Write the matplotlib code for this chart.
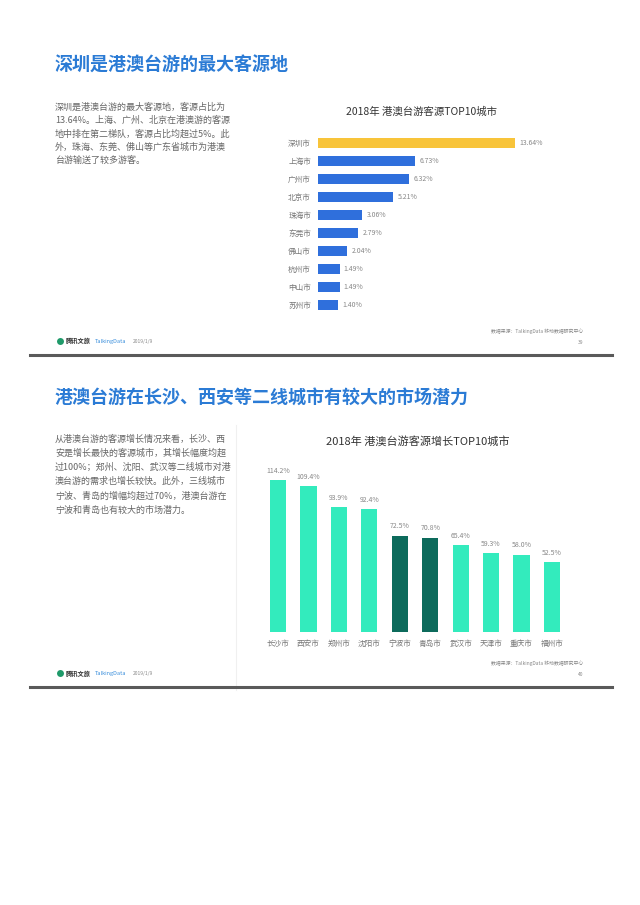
import matplotlib
matplotlib.use("Agg")
import matplotlib.pyplot as plt
from matplotlib.lines import Line2D

plt.rcParams['font.family'] = ['Noto Sans CJK SC', 'DejaVu Sans']

# page 1 data: share of visitors by source city
src_cities = ['深圳市', '上海市', '广州市', '北京市', '珠海市', '东莞市', '佛山市', '杭州市', '中山市', '苏州市']
src_share = [13.64, 6.73, 6.32, 5.21, 3.06, 2.79, 2.04, 1.49, 1.49, 1.40]
src_labels = ['13.64%', '6.73%', '6.32%', '5.21%', '3.06%', '2.79%', '2.04%', '1.49%', '1.49%', '1.40%']

# page 2 data: growth by source city
grow_cities = ['长沙市', '西安市', '郑州市', '沈阳市', '宁波市', '青岛市', '武汉市', '天津市', '重庆市', '福州市']
grow_rate = [114.2, 109.4, 93.9, 92.4, 72.5, 70.8, 65.4, 59.3, 58.0, 52.5]
grow_labels = ['114.2%', '109.4%', '93.9%', '92.4%', '72.5%', '70.8%', '65.4%', '59.3%', '58.0%', '52.5%']
grow_dark = ['宁波市', '青岛市']

W, H = 640, 905
fig = plt.figure(figsize=(W / 100, H / 100), dpi=100)
fig.patch.set_facecolor('white')

BLUE_T = '#2b7bd5'
GREY = '#666666'


def px(x, y):
    return x / W, 1 - y / H


def ftext(x, y, s, **kw):
    fx, fy = px(x, y)
    fig.text(fx, fy, s, **kw)


def add_ax(left, top, width, height):
    return fig.add_axes([left / W, 1 - (top + height) / H, width / W, height / H])


def hline(x0, x1, y, **kw):
    a, b = px(x0, y)
    c, _ = px(x1, y)
    fig.lines.append(Line2D([a, c], [b, b], transform=fig.transFigure, **kw))


def footer(y_line, page):
    # logo
    fx, fy = px(60, y_line - 14)
    fig.lines.append(Line2D([fx], [fy], transform=fig.transFigure, marker='o', markersize=5,
                            color='#1f9a6a', markeredgewidth=0))
    ftext(66, y_line - 14, '腾讯文旅', fontsize=4.5, fontweight='bold', color='#333333', va='center')
    ftext(95, y_line - 14, 'TalkingData', fontsize=4, color='#3b8fdc', va='center')
    ftext(133, y_line - 14, '2019/1/9', fontsize=3.5, color='#888888', va='center')
    ftext(583, y_line - 24, '数据来源：TalkingData 移动数据研究中心', fontsize=3.5, color='#888888',
          va='center', ha='right')
    ftext(583, y_line - 13, page, fontsize=3.5, color='#888888', va='center', ha='right')
    hline(30, 612, y_line, color='#5a5a5a', linewidth=2.2)


# ---------------- page 1 ----------------
ftext(55, 65, '深圳是港澳台游的最大客源地', fontsize=13, fontweight='bold', color=BLUE_T, va='center')

para1 = ['深圳是港澳台游的最大客源地，客源占比为',
         '13.64%。上海、广州、北京在港澳游的客源',
         '地中排在第二梯队，客源占比均超过5%。此',
         '外，珠海、东莞、佛山等广东省城市为港澳',
         '台游输送了较多游客。']
for i, line in enumerate(para1):
    ftext(55, 107 + i * 13.3, line, fontsize=6.5, color=GREY, va='center')

ftext(421, 112, '2018年 港澳台游客源TOP10城市', fontsize=7.5, color='#333333', va='center', ha='center')

ax1 = add_ax(318, 134, 197, 180)
colors1 = ['#f8c43a'] + ['#2f6fdc'] * (len(src_cities) - 1)
ax1.barh(range(len(src_cities)), src_share, height=0.56, color=colors1)
ax1.set_xlim(0, max(src_share))
ax1.set_ylim(len(src_cities) - 0.5, -0.5)
ax1.set_yticks(range(len(src_cities)))
ax1.set_yticklabels(src_cities, fontsize=5.5, color='#777777')
ax1.tick_params(axis='y', length=0, pad=5)
ax1.set_xticks([])
for s in ax1.spines.values():
    s.set_visible(False)
for i, (v, lab) in enumerate(zip(src_share, src_labels)):
    ax1.text(v + 0.3, i, lab, fontsize=5, color='#888888', va='center', ha='left', clip_on=False)

footer(355, '39')

# ---------------- page 2 ----------------
ftext(55, 397, '港澳台游在长沙、西安等二线城市有较大的市场潜力', fontsize=13, fontweight='bold',
      color=BLUE_T, va='center')

para2 = ['从港澳台游的客源增长情况来看，长沙、西',
         '安是增长最快的客源城市，其增长幅度均超',
         '过100%；郑州、沈阳、武汉等二线城市对港',
         '澳台游的需求也增长较快。此外，三线城市',
         '宁波、青岛的增幅均超过70%，港澳台游在',
         '宁波和青岛也有较大的市场潜力。']
for i, line in enumerate(para2):
    ftext(55, 439 + i * 14.2, line, fontsize=6.5, color=GREY, va='center')

# faint panel divider
x0, y0 = px(236, 425)
_, y1 = px(236, 690)
fig.lines.append(Line2D([x0, x0], [y0, y1], transform=fig.transFigure, color='#f0f0f0', linewidth=0.8))

ftext(418, 441, '2018年 港澳台游客源增长TOP10城市', fontsize=8, color='#333333', va='center', ha='center')

ax2 = add_ax(262.8, 480, 304.4, 152)
colors2 = ['#0d6b5c' if c in grow_dark else '#33ebbd' for c in grow_cities]
ax2.bar(range(len(grow_cities)), grow_rate, width=0.53, color=colors2)
ax2.set_xlim(-0.5, len(grow_cities) - 0.5)
ax2.set_ylim(0, max(grow_rate))
ax2.set_xticks(range(len(grow_cities)))
ax2.set_xticklabels(grow_cities, fontsize=5.5, color='#777777')
ax2.tick_params(axis='x', length=0, pad=6)
ax2.set_yticks([])
for s in ax2.spines.values():
    s.set_visible(False)
for i, (v, lab) in enumerate(zip(grow_rate, grow_labels)):
    ax2.text(i, v + 4, lab, fontsize=5, color='#888888', va='bottom', ha='center', clip_on=False)

footer(687, '40')

fig.savefig('out.png', dpi=100, facecolor='white')
